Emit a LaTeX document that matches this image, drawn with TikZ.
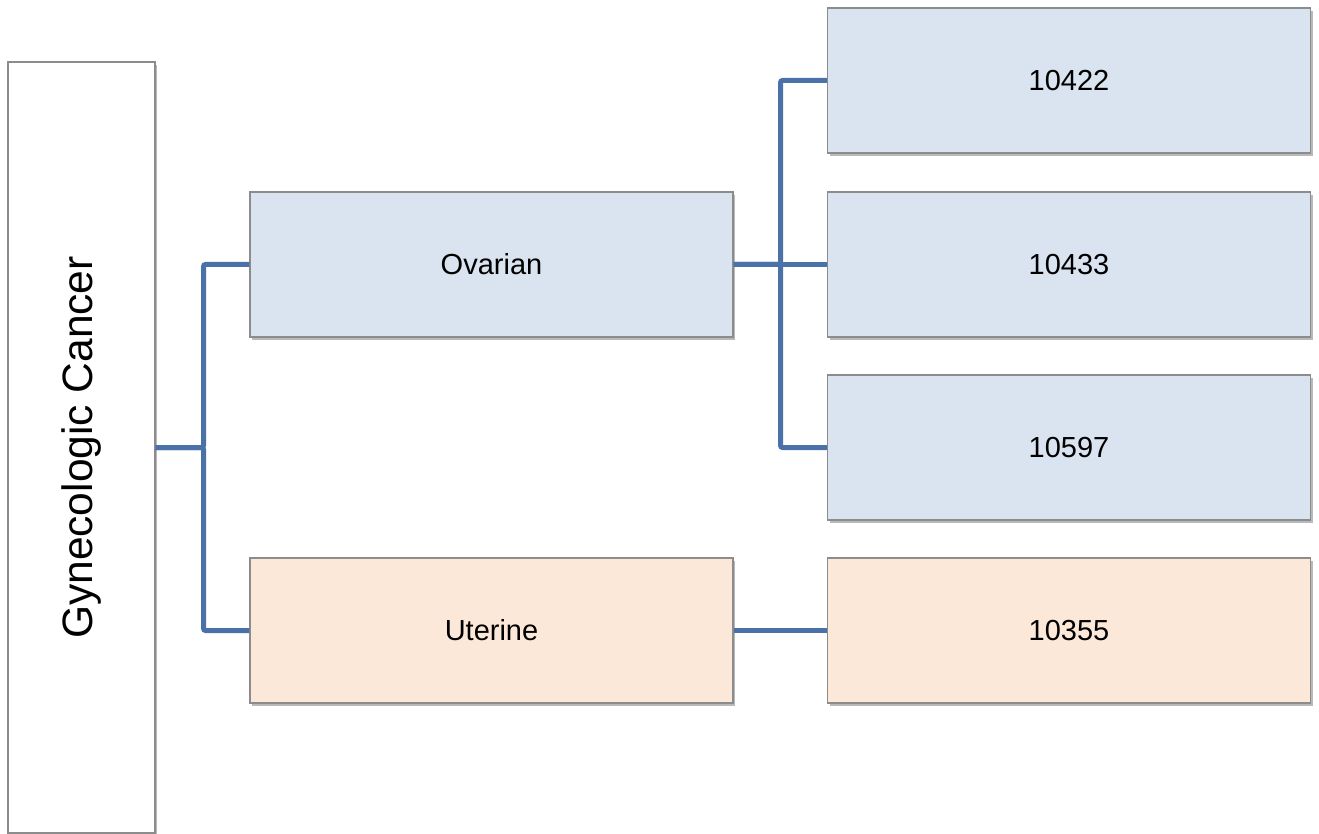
\documentclass[tikz,border=0pt]{standalone}
\usepackage{fontspec}
\setmainfont{Liberation Sans}
\usepackage{xcolor}
\usetikzlibrary{shadows}
\definecolor{azulclaro}{HTML}{DAE3F0}
\definecolor{durazno}{HTML}{FBE8D9}
\definecolor{borde}{HTML}{8C8C8C}
\definecolor{linea}{HTML}{4A72A9}

\begin{document}
\begin{tikzpicture}[x=1pt,y=-1pt,
  caja/.style={draw=borde,line width=1.1pt,minimum width=483pt,minimum height=145pt,
               inner sep=0pt,font=\fontsize{29}{35}\selectfont,
               drop shadow={shadow xshift=2pt,shadow yshift=-3pt,fill=black!55,opacity=.5}},
  raiz/.style={caja,fill=white,minimum width=147pt,minimum height=771pt,
               font=\fontsize{42.5}{50}\selectfont},
  fl/.style={draw=linea,line width=5pt,rounded corners=2pt}]
  \useasboundingbox (0,0) rectangle (1319,834);
  \node[raiz] (gyn) at (81.5,447.5) {\rotatebox{90}{Gynecologic Cancer}};
  \node[caja,fill=azulclaro] (ova) at (491.5,264.5) {Ovarian};
  \node[caja,fill=durazno] (ute) at (491.5,630.5) {Uterine};
  \node[caja,fill=azulclaro] (o1) at (1069,80.5) {10422};
  \node[caja,fill=azulclaro] (o2) at (1069,264.5) {10433};
  \node[caja,fill=azulclaro] (o3) at (1069,447.5) {10597};
  \node[caja,fill=durazno] (u1) at (1069,630.5) {10355};
  % conectores
  \draw[fl] (gyn.east) -- ++(48,0) |- (ova.west);
  \draw[fl] (gyn.east) -- ++(48,0) |- (ute.west);
  \draw[fl] (ova.east) -- ++(47,0) |- (o1.west);
  \draw[fl] (ova.east) -- (o2.west);
  \draw[fl] (ova.east) -- ++(47,0) |- (o3.west);
  \draw[fl] (ute.east) -- (u1.west);
\end{tikzpicture}
\end{document}
